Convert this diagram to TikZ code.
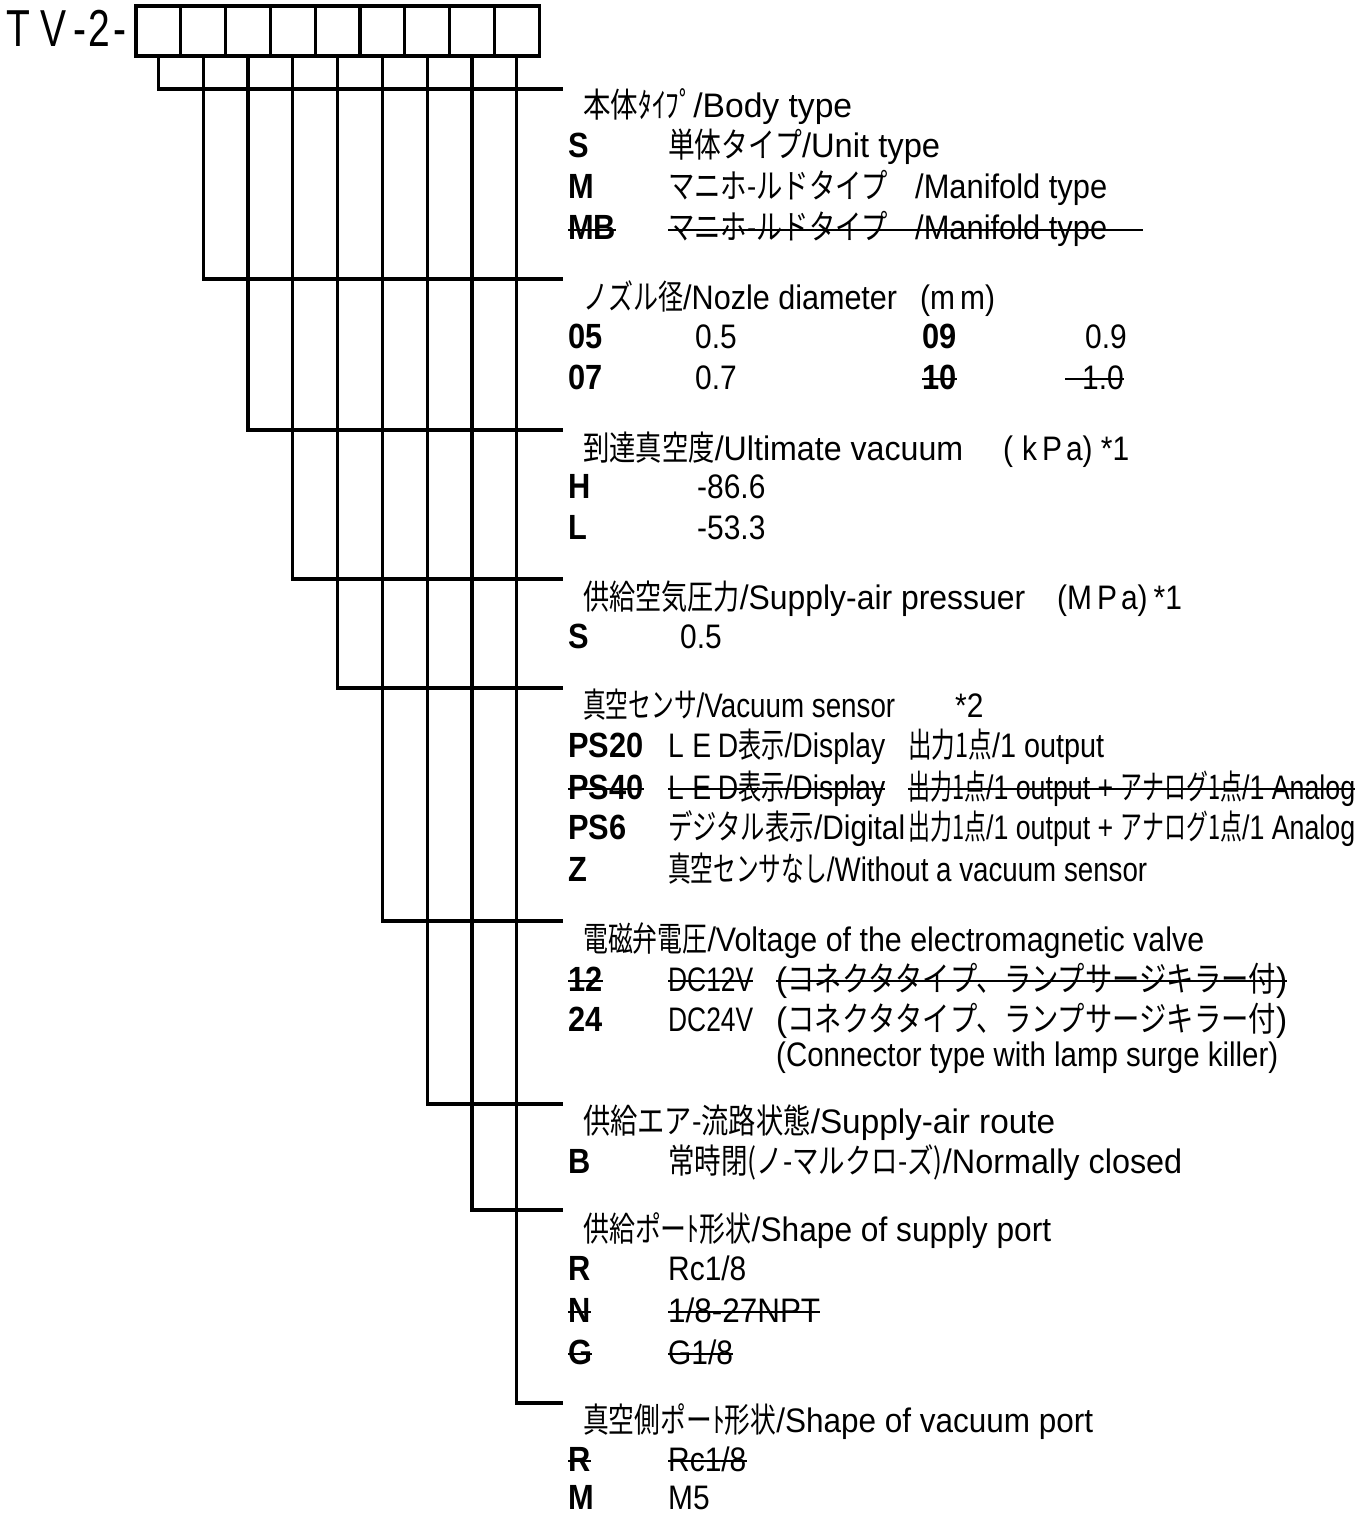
\documentclass[tikz,border=0pt]{standalone}
\usepackage{graphicx}
\usepackage{fontspec}
\setmainfont[FakeStretch=0.88]{Liberation Sans}
\newfontfamily\cjkfont[FakeStretch=0.72]{Noto Sans CJK JP}
\newfontfamily\titlefont[FakeStretch=0.75]{Liberation Sans}
\newcommand\JP[1]{{\cjkfont #1}}
\newcommand\fit[2]{\resizebox{#1pt}{\height}{#2}}
\newcommand\StrikeNode[1]{\draw[strikeline] ([yshift=10pt]#1.base west) -- ([yshift=10pt]#1.base east);}
\begin{document}
\begin{tikzpicture}[x=1pt,y=-1pt,
  cell/.style={draw,line width=3.3pt,minimum width=44.8pt,minimum height=50pt,inner sep=0pt},
  branch/.style={line width=3.3pt},
  strikeline/.style={line width=2pt},
  txt/.style={anchor=base west,inner sep=0pt,font=\fontsize{34}{34}\selectfont},
  code/.style={anchor=base west,inner sep=0pt,font=\fontsize{35}{35}\selectfont\bfseries},
  title/.style={anchor=base west,inner sep=0pt,font=\fontsize{52}{52}\titlefont}]
\useasboundingbox (0,0) rectangle (1367,1514);

% title and boxes
\node[title] (tv) at (6,47) {T\hspace{10pt}V\hspace{7pt}-\hspace{2pt}2\hspace{4pt}-};
\foreach \i in {1,...,9} \node[cell] (b\i) at ({158.4+44.8*(\i-1)},31) {};
\foreach \i/\y in {1/89,2/279,3/430,4/579,5/688,6/921,7/1104,8/1210,9/1403} {
  \coordinate (e\i) at (563,\y);
  \draw[branch] (b\i.south) |- (e\i);
}

% 1 body type
\node[txt] (h1) at (583,118) {\fit{269}{\JP{本体ﾀｲﾌﾟ}/Body type}};
\node[code] (c1a) at (568,158) {S};
\node[txt] (d1a) at (668,158) {\fit{272}{\JP{単体タイプ}/Unit type}};
\node[code] (c1b) at (568,199) {M};
\node[txt] (d1b) at (668,199) {\fit{220}{\JP{マニホ-ルドタイプ}}};
\node[txt] (d1b2) at (915,199) {\fit{192}{/Manifold type}};
\node[code] (c1c) at (568,240) {MB};
\node[txt] (d1c) at (668,240) {\fit{220}{\JP{マニホ-ルドタイプ}}};
\node[txt] (d1c2) at (915,240) {\fit{192}{/Manifold type}};
\coordinate (s1end) at (1143,230);
\StrikeNode{c1c}
\draw[strikeline] ([yshift=10pt]d1c.base west) -- (s1end);

% 2 nozzle
\node[txt] (h2) at (583,309) {\fit{314}{\JP{ノズル径}/Nozle diameter}};
\node[txt] (u2) at (920,309) {(m\hspace{5pt}m)};
\node[code] (c2a) at (568,348) {05};
\node[txt] (v2a) at (695,348) {0.5};
\node[code] (c2b) at (568,389) {07};
\node[txt] (v2b) at (695,389) {0.7};
\node[code] (c2c) at (922,348) {09};
\node[txt] (v2c) at (1085,348) {0.9};
\node[code] (c2d) at (922,389) {10};
\node[txt] (v2d) at (1082,389) {1.0};
\StrikeNode{c2d}
\draw[strikeline] ([xshift=-17pt,yshift=10pt]v2d.base west) -- ([yshift=10pt]v2d.base east);

% 3 ultimate vacuum
\node[txt] (h3) at (583,460) {\fit{380}{\JP{到達真空度}/Ultimate vacuum}};
\node[txt] (u3) at (1003,460) {(\hspace{9pt}k\hspace{5pt}P\hspace{4pt}a) *1};
\node[code] (c3a) at (568,498) {H};
\node[txt] (v3a) at (697,498) {-86.6};
\node[code] (c3b) at (568,539) {L};
\node[txt] (v3b) at (697,539) {-53.3};

% 4 supply air pressure
\node[txt] (h4) at (583,609) {\fit{442}{\JP{供給空気圧力}/Supply-air pressuer}};
\node[txt] (u4) at (1057,609) {(M\hspace{5pt}P\hspace{4pt}a)\hspace{6pt}*1};
\node[code] (c4a) at (568,648) {S};
\node[txt] (v4a) at (680,648) {0.5};

% 5 vacuum sensor
\node[txt] (h5) at (583,717) {\fit{312}{\JP{真空センサ}/Vacuum sensor}};
\node[txt] (u5) at (955,717) {*2};
\node[code] (c5a) at (568,757) {PS20};
\node[txt] (d5a) at (668,757) {\fit{217}{L\hspace{9pt}E\hspace{7pt}D\JP{表示}/Display}};
\node[txt] (o5a) at (908,757) {\fit{196}{\JP{出力1点}/1 output}};
\node[code] (c5b) at (568,799) {PS40};
\node[txt] (d5b) at (668,799) {\fit{217}{L\hspace{9pt}E\hspace{7pt}D\JP{表示}/Display}};
\node[txt] (o5b) at (908,799) {\fit{447}{\JP{出力1点}/1 output + \JP{アナログ1点}/1 Analog}};
\StrikeNode{c5b}
\StrikeNode{d5b}
\StrikeNode{o5b}
\node[code] (c5c) at (568,839) {PS6};
\node[txt] (d5c) at (668,839) {\fit{237}{\JP{デジタル表示}/Digital}};
\node[txt] (o5c) at (908,839) {\fit{447}{\JP{出力1点}/1 output + \JP{アナログ1点}/1 Analog}};
\node[code] (c5d) at (568,881) {Z};
\node[txt] (d5d) at (668,881) {\fit{479}{\JP{真空センサなし}/Without a vacuum sensor}};

% 6 voltage
\node[txt] (h6) at (583,951) {\fit{621}{\JP{電磁弁電圧}/Voltage of the electromagnetic valve}};
\node[code] (c6a) at (568,991) {12};
\node[txt] (d6a) at (668,991) {\fit{85}{DC12V}};
\node[txt] (n6a) at (776,991) {\fit{511}{(\JP{コネクタタイプ、ランプサージキラー付})}};
\StrikeNode{c6a}
\StrikeNode{d6a}
\StrikeNode{n6a}
\node[code] (c6b) at (568,1031) {24};
\node[txt] (d6b) at (668,1031) {\fit{85}{DC24V}};
\node[txt] (n6b) at (776,1031) {\fit{511}{(\JP{コネクタタイプ、ランプサージキラー付})}};
\node[txt] (n6c) at (776,1066) {\fit{502}{(Connector type with lamp surge killer)}};

% 7 supply-air route
\node[txt] (h7) at (583,1133) {\fit{472}{\JP{供給エア-流路状態}/Supply-air route}};
\node[code] (c7a) at (568,1173) {B};
\node[txt] (d7a) at (668,1173) {\fit{514}{\JP{常時閉(ノ-マルクロ-ズ)}/Normally closed}};

% 8 supply port
\node[txt] (h8) at (583,1241) {\fit{468}{\JP{供給ポーﾄ形状}/Shape of supply port}};
\node[code] (c8a) at (568,1280) {R};
\node[txt] (d8a) at (668,1280) {Rc1/8};
\node[code] (c8b) at (568,1322) {N};
\node[txt] (d8b) at (668,1322) {\fit{152}{1/8-27NPT}};
\node[code] (c8c) at (568,1364) {G};
\node[txt] (d8c) at (668,1364) {G1/8};
\StrikeNode{c8b}
\StrikeNode{d8b}
\StrikeNode{c8c}
\StrikeNode{d8c}

% 9 vacuum port
\node[txt] (h9) at (583,1432) {\fit{510}{\JP{真空側ポーﾄ形状}/Shape of vacuum port}};
\node[code] (c9a) at (568,1471) {R};
\node[txt] (d9a) at (668,1471) {Rc1/8};
\node[code] (c9b) at (568,1509) {M};
\node[txt] (d9b) at (668,1509) {M5};
\StrikeNode{c9a}
\StrikeNode{d9a}
\end{tikzpicture}
\end{document}
